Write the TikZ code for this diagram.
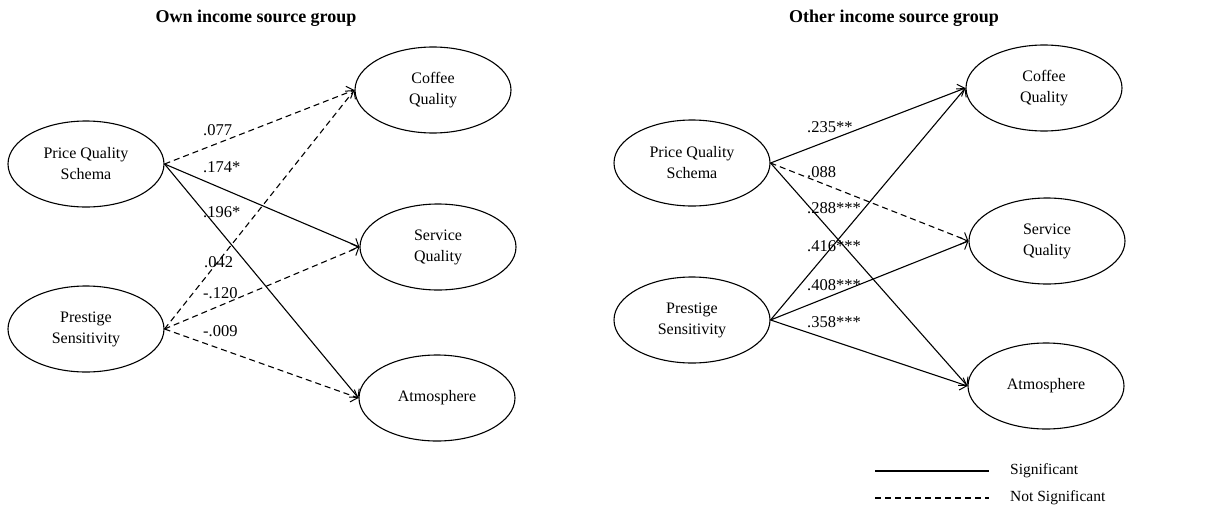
\documentclass[tikz,border=0pt]{standalone}
\usepackage{fontspec}
\setmainfont{Liberation Serif}
\usetikzlibrary{shapes.geometric,arrows.meta}

\begin{document}
\begin{tikzpicture}[x=1pt,y=-1pt,
  latent/.style={draw,ellipse,line width=1.1pt,minimum width=156pt,minimum height=86pt,
    inner sep=0pt,align=center,font=\fontsize{16}{21}\selectfont},
  path/.style={line width=1.1pt,-{Straight Barb[length=6pt,width=13pt,line width=1pt]}},
  sig/.style={path},
  nonsig/.style={path,dash pattern=on 6pt off 4pt},
  coef/.style={anchor=west,inner sep=0pt,font=\fontsize{16.5}{20}\selectfont},
  heading/.style={inner sep=0pt,font=\fontsize{18}{22}\selectfont\bfseries},
  legendtext/.style={anchor=west,inner sep=0pt,font=\fontsize{15.5}{19}\selectfont}]
\useasboundingbox (0,0) rectangle (1207,514);

% ---- Own income source group ----
\node[heading] (t1) at (256,18) {Own income source group};
\node[latent] (pqa) at (86,164) {Price Quality\\Schema};
\node[latent] (psa) at (86,329) {Prestige\\Sensitivity};
\node[latent] (cqa) at (433,90) {Coffee\\Quality};
\node[latent] (sqa) at (438,247) {Service\\Quality};
\node[latent] (ata) at (437,398) {Atmosphere};

\draw[nonsig] (pqa.east) -- (cqa.west);
\draw[sig]    (pqa.east) -- (sqa.west);
\draw[sig]    (pqa.east) -- (ata.west);
\draw[nonsig] (psa.east) -- (cqa.west);
\draw[nonsig] (psa.east) -- (sqa.west);
\draw[nonsig] (psa.east) -- (ata.west);

\node[coef] (a1) at (203,130) {.077};
\node[coef] (a2) at (203,167) {.174*};
\node[coef] (a3) at (203,212) {.196*};
\node[coef] (a4) at (204,262) {.042};
\node[coef] (a5) at (203,293) {-.120};
\node[coef] (a6) at (203,331) {-.009};

% ---- Other income source group ----
\node[heading] (t2) at (894,18) {Other income source group};
\node[latent] (pqb) at (692,163) {Price Quality\\Schema};
\node[latent] (psb) at (692,320) {Prestige\\Sensitivity};
\node[latent] (cqb) at (1044,88) {Coffee\\Quality};
\node[latent] (sqb) at (1047,241) {Service\\Quality};
\node[latent] (atb) at (1046,386) {Atmosphere};

\draw[sig]    (pqb.east) -- (cqb.west);
\draw[nonsig] (pqb.east) -- (sqb.west);
\draw[sig]    (pqb.east) -- (atb.west);
\draw[sig]    (psb.east) -- (cqb.west);
\draw[sig]    (psb.east) -- (sqb.west);
\draw[sig]    (psb.east) -- (atb.west);

\node[coef] (b1) at (807,127) {.235**};
\node[coef] (b2) at (807,172) {.088};
\node[coef] (b3) at (807,208) {.288***};
\node[coef] (b4) at (807,246) {.416***};
\node[coef] (b5) at (807,285) {.408***};
\node[coef] (b6) at (807,322) {.358***};

% ---- Legend ----
\coordinate (ls1) at (875,471);
\coordinate (le1) at (989,471);
\coordinate (ls2) at (875,498);
\coordinate (le2) at (989,498);
\draw[line width=1.1pt] (ls1) -- (le1);
\draw[line width=1.1pt,dash pattern=on 6pt off 4pt] (ls2) -- (le2);
\node[legendtext] (l1) at (1010,471) {Significant};
\node[legendtext] (l2) at (1010,498) {Not Significant};
\end{tikzpicture}
\end{document}
